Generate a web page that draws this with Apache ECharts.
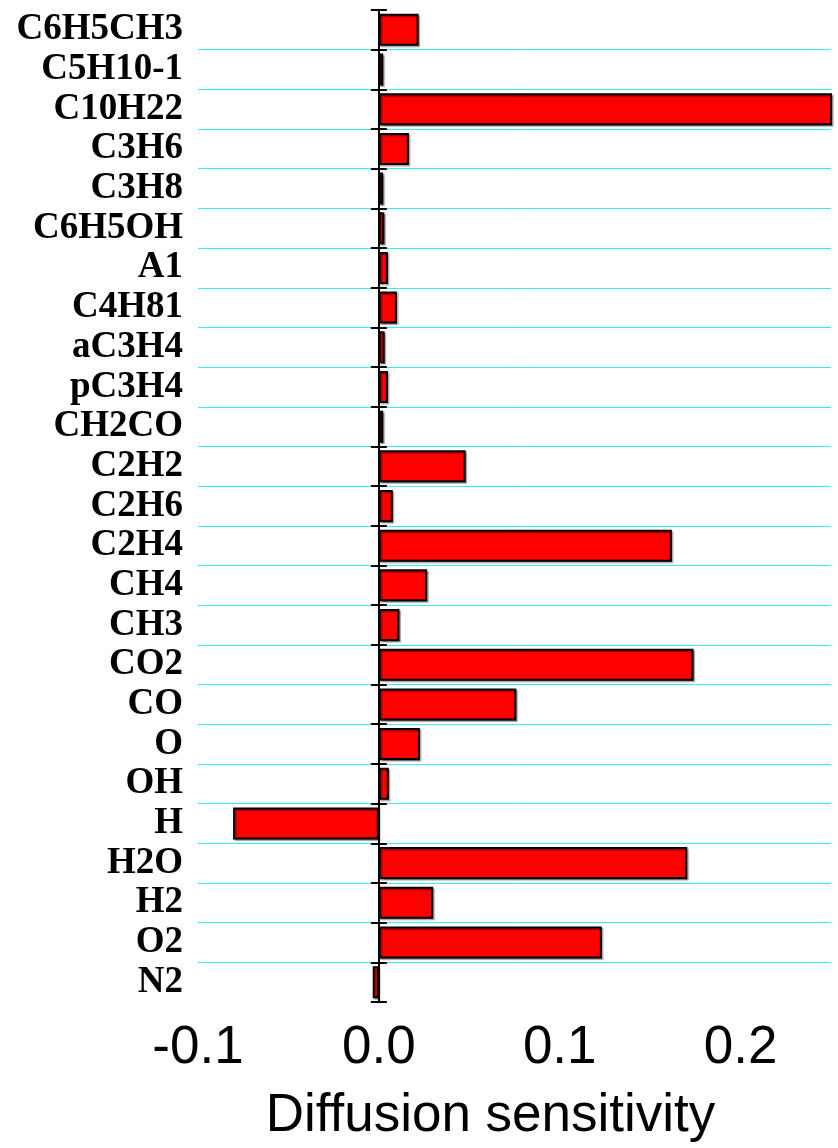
<!DOCTYPE html>
<html>
<head>
<meta charset="utf-8">
<title>Diffusion sensitivity</title>
<script src="https://cdn.jsdelivr.net/npm/echarts@6/dist/echarts.min.js"></script>
<style>
    html, body { margin: 0; padding: 0; background: #ffffff; }
    #chart { width: 838px; height: 1148px; }
</style>
</head>
<body>
<div id="chart"></div>
<script>
// Data
const species = ['C6H5CH3', 'C5H10-1', 'C10H22', 'C3H6', 'C3H8', 'C6H5OH', 'A1', 'C4H81',
    'aC3H4', 'pC3H4', 'CH2CO', 'C2H2', 'C2H6', 'C2H4', 'CH4', 'CH3', 'CO2', 'CO', 'O',
    'OH', 'H', 'H2O', 'H2', 'O2', 'N2'];
const sensitivity = [0.022, 0.0024, 0.26, 0.0166, 0.0024, 0.003, 0.005, 0.01,
    0.0032, 0.005, 0.0024, 0.048, 0.0077, 0.162, 0.0267, 0.0114, 0.174, 0.076, 0.0227,
    0.0055, -0.0806, 0.1705, 0.03, 0.1233, -0.0034];
const xMajorTicks = [-0.1, 0.0, 0.1, 0.2];
const xMinorTicks = [-0.08, -0.06, -0.04, -0.02, 0.02, 0.04, 0.06, 0.08,
    0.12, 0.14, 0.16, 0.18, 0.22, 0.24];

// Constants
const X_MIN = -0.1;
const X_MAX = 0.25;
const LABEL_FONT = "'Liberation Sans', Arial, sans-serif";
const NAME_FONT = "'Liberation Serif', 'Times New Roman', serif";

document.addEventListener('DOMContentLoaded', function() {
    const chart = echarts.init(document.getElementById('chart'), null, { renderer: 'canvas' });

    // hidden helper axes: zero line and the ticks crossing it
    const helperY = (inside) => ({
        type: 'category',
        data: species,
        inverse: true,
        position: 'left',
        axisLine: {
            show: !inside,
            onZero: true,
            onZeroAxisIndex: 0,
            lineStyle: { color: '#000000', width: 2 }
        },
        axisTick: {
            show: true,
            interval: 0,
            inside: inside,
            length: 8,
            lineStyle: { color: '#000000', width: 2 }
        },
        axisLabel: { show: false, interval: 0 },
        splitLine: { show: false }
    });

    const option = {
        animation: false,
        backgroundColor: '#ffffff',
        grid: {
            left: 198,
            right: 7,
            top: 10,
            bottom: 146,
            containLabel: false
        },
        xAxis: [
            {
                type: 'value',
                min: X_MIN,
                max: X_MAX,
                interval: 0.1,
                position: 'bottom',
                name: 'Diffusion sensitivity',
                nameLocation: 'middle',
                nameGap: 88,
                nameTextStyle: {
                    fontFamily: LABEL_FONT,
                    fontSize: 53,
                    color: '#000000',
                    padding: [0, 48, 0, 0]
                },
                axisLine: {
                    onZero: false,
                    lineStyle: { color: '#000000', width: 2 }
                },
                axisTick: {
                    customValues: xMajorTicks,
                    length: 15,
                    lineStyle: { color: '#000000', width: 2 }
                },
                axisLabel: {
                    customValues: xMajorTicks,
                    fontFamily: LABEL_FONT,
                    fontSize: 53,
                    color: '#000000',
                    margin: 20,
                    formatter: (v) => v.toFixed(1)
                },
                splitLine: { show: false }
            },
            {
                // minor ticks only
                type: 'value',
                min: X_MIN,
                max: X_MAX,
                interval: 0.1,
                position: 'bottom',
                axisLine: { show: false, onZero: false },
                axisTick: {
                    customValues: xMinorTicks,
                    length: 8,
                    lineStyle: { color: '#000000', width: 2 }
                },
                axisLabel: { show: false },
                splitLine: { show: false }
            }
        ],
        yAxis: [
            {
                type: 'category',
                data: species,
                inverse: true,
                position: 'left',
                axisLine: { show: false, onZero: false },
                axisTick: { show: false },
                axisLabel: {
                    interval: 0,
                    fontFamily: NAME_FONT,
                    fontWeight: 'bold',
                    fontSize: 37,
                    color: '#000000',
                    margin: 15
                },
                splitLine: {
                    show: true,
                    interval: 0,
                    showMinLine: false,
                    showMaxLine: false,
                    lineStyle: { color: '#33eeee', width: 1 }
                }
            },
            helperY(false),
            helperY(true)
        ],
        series: [
            {
                name: 'Diffusion sensitivity',
                type: 'bar',
                xAxisIndex: 0,
                yAxisIndex: 0,
                barWidth: 32,
                clip: true,
                itemStyle: {
                    color: '#ff0000',
                    borderColor: '#000000',
                    borderWidth: 2,
                    shadowColor: 'rgba(0, 0, 0, 0.35)',
                    shadowOffsetX: 1.5,
                    shadowOffsetY: 1.5,
                    shadowBlur: 1
                },
                data: sensitivity
            }
        ]
    };

    chart.setOption(option);
});
</script>
</body>
</html>
